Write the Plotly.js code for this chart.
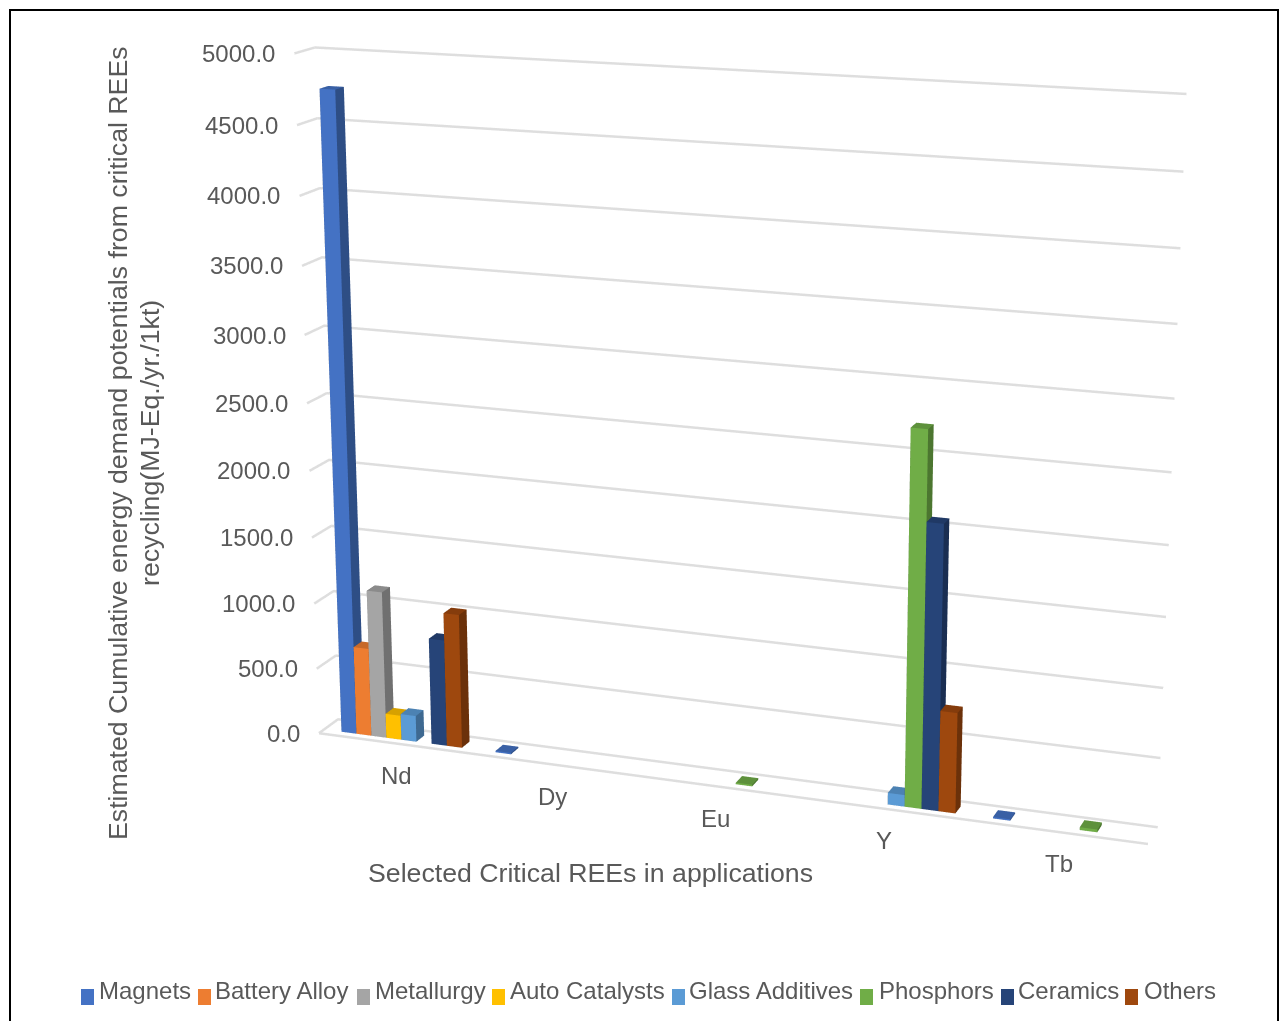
<!DOCTYPE html>
<html><head><meta charset="utf-8">
<script src="https://cdn.plot.ly/plotly-3.0.1.min.js"></script>
<style>
html,body{margin:0;padding:0;width:1280px;height:1021px;overflow:hidden;background:#fff}
#chart{position:absolute;left:0;top:-855px;width:1448px;height:2572px}
</style></head>
<body>
<div id="chart"></div>
<script>
// Cumulative energy demand potentials by rare-earth element and application.
var categories = ['Nd', 'Dy', 'Eu', 'Y', 'Tb'];
var seriesNames = ['Magnets', 'Battery Alloy', 'Metallurgy', 'Auto Catalysts', 'Glass Additives', 'Phosphors', 'Ceramics', 'Others'];
var seriesColors = ['#4472c4', '#ed7d31', '#a5a5a5', '#ffc000', '#5b9bd5', '#70ad47', '#264478', '#9e480e'];
var magnets       = [4750, 10, 0, 0, 10];
var batteryAlloy  = [670, 0, 0, 0, 0];
var metallurgy    = [1115, 0, 0, 0, 0];
var autoCatalysts = [185, 0, 0, 0, 0];
var glassAdditives = [198, 0, 0, 85, 0];
var phosphors     = [0, 0, 12, 2705, 20];
var ceramics      = [805, 0, 0, 2060, 0];
var others        = [1012, 0, 0, 730, 0];
var seriesValues = [magnets, batteryAlloy, metallurgy, autoCatalysts, glassAdditives, phosphors, ceramics, others];
var valueTicks = [0, 500, 1000, 1500, 2000, 2500, 3000, 3500, 4000, 4500, 5000];
var yAxisTitleLines = ['Estimated Cumulative energy demand potentials from critical REEs', 'recycling(MJ-Eq./yr./1kt)'];
var xAxisTitle = 'Selected Critical REEs in applications';

var PLOT_W = 1448, PLOT_H = 2572, PLOT_TOP = -855;
var TEXT = '#595959', FONT = '"Liberation Sans", Arial, sans-serif', GRID = '#dedede';
var BAR_W = 1 / 10.19, BAR_START = 0.115, DEPTH_FRONT = 0.27, DEPTH_BACK = 0.7;

function pageX(x) { return x / PLOT_W; }
function pageY(y) { return 1 - (y - PLOT_TOP) / PLOT_H; }

function shade(hex, k) {
  var n = parseInt(hex.slice(1), 16);
  var c = [(n >> 16) & 255, (n >> 8) & 255, n & 255].map(function (v) { return Math.round(v * k); });
  return 'rgb(' + c.join(',') + ')';
}

// Every series becomes one mesh holding a box per non-zero value.
function barMesh(name, color, values, index) {
  var t = {type: 'mesh3d', name: name, x: [], y: [], z: [], i: [], j: [], k: [], facecolor: [],
    flatshading: true, hoverinfo: 'skip', showscale: false,
    lighting: {ambient: 1, diffuse: 0, specular: 0, roughness: 1, fresnel: 0}};
  var quads = [
    [[0, 1, 5, 4], 1],      // front
    [[1, 2, 6, 5], 0.68],   // right side
    [[4, 5, 6, 7], 0.84],   // top
    [[0, 3, 7, 4], 0.68],   // left side
    [[3, 2, 6, 7], 0.68],   // back
    [[0, 1, 2, 3], 0.68]    // bottom
  ];
  values.forEach(function (v, c) {
    if (!v) return;
    var x0 = c + BAR_START + index * BAR_W, x1 = x0 + BAR_W, b = t.x.length;
    [[x0, DEPTH_FRONT, 0], [x1, DEPTH_FRONT, 0], [x1, DEPTH_BACK, 0], [x0, DEPTH_BACK, 0],
     [x0, DEPTH_FRONT, v], [x1, DEPTH_FRONT, v], [x1, DEPTH_BACK, v], [x0, DEPTH_BACK, v]].forEach(function (p) {
      t.x.push(p[0]); t.y.push(p[1]); t.z.push(p[2]);
    });
    quads.forEach(function (q) {
      var f = q[0], col = shade(color, q[1]);
      t.i.push(b + f[0], b + f[0]); t.j.push(b + f[1], b + f[2]); t.k.push(b + f[2], b + f[3]);
      t.facecolor.push(col, col);
    });
  });
  return t;
}

// Wall gridlines run along the side wall and then the back wall; the floor gets its front edge too.
function wallLine(xs, ys, zs) {
  return {type: 'scatter3d', mode: 'lines', x: xs, y: ys, z: zs, hoverinfo: 'skip', showlegend: false,
    line: {color: GRID, width: 5}};
}
var xEnd = categories.length;
var gridTraces = valueTicks.map(function (v) { return wallLine([0, 0, xEnd], [0, 1, 1], [v, v, v]); });
gridTraces.push(wallLine([0, xEnd], [0, 0], [0, 0]));

var traces = gridTraces.concat(seriesNames.map(function (n, s) { return barMesh(n, seriesColors[s], seriesValues[s], s); }));

var sceneLabels = valueTicks.map(function (v) {
  return {x: 0, y: 0, z: v, text: v.toFixed(1), showarrow: false, xanchor: 'right', yanchor: 'middle',
    xshift: -17, yshift: 0, font: {family: FONT, size: 24, color: TEXT}};
}).concat(categories.map(function (c, i) {
  return {x: i + 0.5, y: 0, z: 0, text: c, showarrow: false, xanchor: 'center', yanchor: 'middle',
    xshift: 1, yshift: -32, font: {family: FONT, size: 24, color: TEXT}};
}));

function hiddenAxis(range) {
  return {range: range, autorange: false, showgrid: false, zeroline: false, showticklabels: false, ticks: '',
    showspikes: false, showbackground: false, showline: false, title: {text: ''}};
}

// Legend row: swatches and names laid out along the bottom of the frame.
var legendSwatchX = [81, 198, 357, 492, 672, 860, 1001, 1125];
var legendTextX = [97, 213, 373, 508, 687, 877, 1016, 1142];
var shapes = [{type: 'rect', xref: 'paper', yref: 'paper', x0: pageX(10), x1: pageX(1278), y0: pageY(1100), y1: pageY(10),
  line: {color: '#000', width: 2}, fillcolor: 'rgba(0,0,0,0)'}];
var yTitleX = [118, 150];
var notes = yAxisTitleLines.map(function (line, n) {
  return {xref: 'paper', yref: 'paper', x: pageX(yTitleX[n]), y: pageY(443), text: line, textangle: -90, showarrow: false,
    xanchor: 'center', yanchor: 'middle', font: {family: FONT, size: 26.7, color: TEXT}};
});
notes.push({xref: 'paper', yref: 'paper', x: pageX(590), y: pageY(873), text: xAxisTitle, showarrow: false,
  xanchor: 'center', yanchor: 'middle', font: {family: FONT, size: 26.7, color: TEXT}});
seriesNames.forEach(function (n, s) {
  shapes.push({type: 'rect', xref: 'paper', yref: 'paper', x0: pageX(legendSwatchX[s]), x1: pageX(legendSwatchX[s] + 13),
    y0: pageY(1005), y1: pageY(989), line: {width: 0}, fillcolor: seriesColors[s]});
  notes.push({xref: 'paper', yref: 'paper', x: pageX(legendTextX[s]), y: pageY(991), text: n, showarrow: false,
    xanchor: 'left', yanchor: 'middle', font: {family: FONT, size: 24, color: TEXT}});
});

var layout = {
  width: PLOT_W, height: PLOT_H, margin: {l: 0, r: 0, t: 0, b: 0}, paper_bgcolor: '#fff', showlegend: false,
  hovermode: false, dragmode: false, shapes: shapes, annotations: notes,
  scene: {
    domain: {x: [0, 1], y: [0, 1]}, dragmode: false,
    aspectmode: 'manual', aspectratio: {x: 1.2338, y: 0.0619, z: 1},
    xaxis: hiddenAxis([0, 5]), yaxis: hiddenAxis([0, 1]), zaxis: hiddenAxis([0, 5000]),
    camera: {eye: {x: 1.3905, y: -3.8582, z: 1.1157}, center: {x: 0.0841, y: -0.2246, z: 0.0725}, up: {x: 0, y: 0, z: 1},
      projection: {type: 'perspective'}},
    annotations: sceneLabels
  }
};
Plotly.newPlot('chart', traces, layout, {displayModeBar: false, scrollZoom: false});
</script></body></html>
